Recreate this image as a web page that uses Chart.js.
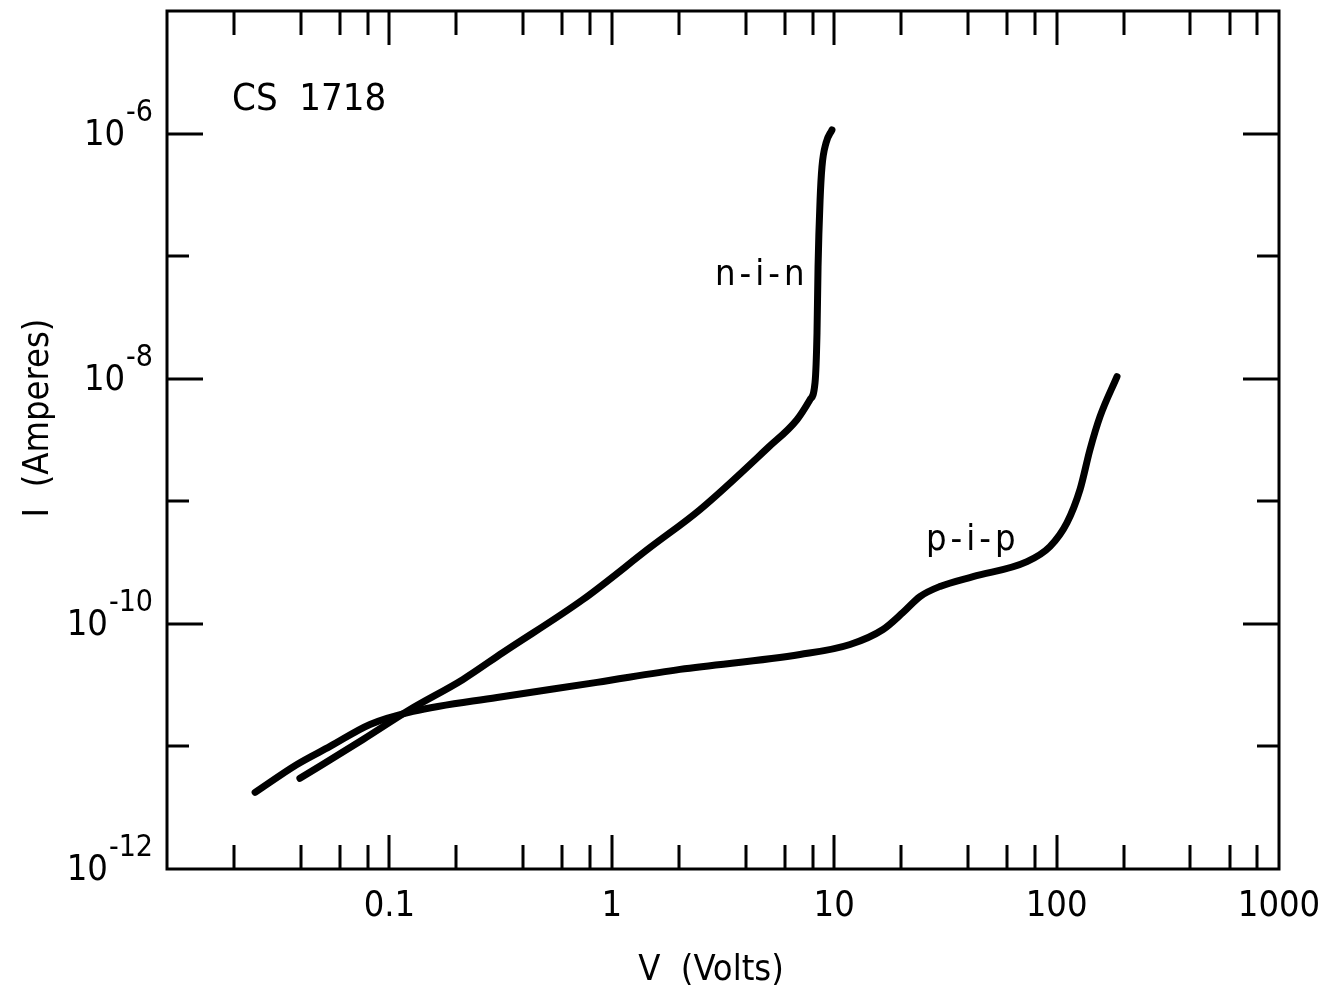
<!DOCTYPE html>
<html>
<head>
<meta charset="utf-8">
<title>CS 1718 current-voltage</title>
<script src="https://cdn.jsdelivr.net/npm/chart.js@4.4.1/dist/chart.umd.min.js"></script>
<style>
  html, body { margin: 0; padding: 0; background: #fff; }
  canvas { display: block; }
</style>
</head>
<body>
<canvas id="ivChart" width="1325" height="990"></canvas>
<script>
// n-i-n curve (volts / amperes)
const ninV = [0.0396, 0.0761, 0.1238, 0.2143, 0.3242, 0.742, 1.485, 2.493, 5.04, 6.80, 7.78, 8.20, 8.37, 8.46, 8.64, 8.81, 9.19, 9.77];
const ninI = [5.49e-12, 1.14e-11, 2.0e-11, 3.52e-11, 5.84e-11, 1.58e-10, 4.19e-10, 8.56e-10, 2.74e-9, 4.63e-9, 6.74e-9, 9.28e-9, 2.37e-8, 8.18e-8, 2.88e-7, 5.35e-7, 8.39e-7, 1.07e-6];

// p-i-p curve
const pipV = [0.0249, 0.0384, 0.0541, 0.0818, 0.1277, 0.3047, 0.858, 2.026, 7.02, 11.78, 16.58, 20.4, 24.3, 29.9, 42.1, 73.6, 93.3, 111.4, 127.4, 141.3, 156.7, 186.9];
const pipI = [4.22e-12, 7.13e-12, 1.0e-11, 1.51e-11, 1.93e-11, 2.51e-11, 3.33e-11, 4.25e-11, 5.62e-11, 6.79e-11, 9.0e-11, 1.24e-10, 1.67e-10, 2.02e-10, 2.43e-10, 3.22e-10, 4.27e-10, 6.7e-10, 1.245e-9, 2.64e-9, 4.9e-9, 1.04e-8];

// axes
const xLabelValues = [0.1, 1, 10, 100, 1000];
const xTickLabels = ['0.1', '1', '10', '100', '1000'];
const xDecades = [0.01, 0.1, 1, 10, 100];
const xMinorSteps = [2, 4, 6, 8];
const yTickExps = [-11, -10, -9, -8, -7, -6];
const yLabelExps = [-12, -10, -8, -6];

const xTitle = 'V  (Volts)';
const yTitle = 'I  (Amperes)';
const sampleName = 'CS  1718';
const curveNames = ['n-i-n', 'p-i-p'];

const FONT = '"Liberation Sans Narrow", "DejaVu Sans Condensed", "Liberation Sans", sans-serif';

function toPoints(xs, ys) {
  return xs.map((v, i) => ({ x: v, y: ys[i] }));
}

// frame, inward ticks, y labels with exponents, titles and notes
const decorPlugin = {
  id: 'decor',
  afterDraw(chart) {
    const { ctx, chartArea: a, scales } = chart;
    const x = scales.x, y = scales.y;
    ctx.save();
    ctx.strokeStyle = '#000';
    ctx.fillStyle = '#000';
    ctx.lineWidth = 3;
    ctx.strokeRect(a.left, a.top, a.right - a.left, a.bottom - a.top);

    // x ticks, top and bottom
    xDecades.forEach(d => {
      const vals = [{ v: d, len: 34 }].concat(xMinorSteps.map(m => ({ v: d * m, len: 24 })));
      vals.forEach(t => {
        if (t.v <= x.min || t.v >= x.max) return;
        const px = Math.round(x.getPixelForValue(t.v));
        ctx.beginPath();
        ctx.moveTo(px, a.bottom); ctx.lineTo(px, a.bottom - t.len);
        ctx.moveTo(px, a.top); ctx.lineTo(px, a.top + t.len);
        ctx.stroke();
      });
    });

    // y ticks, left and right
    yTickExps.forEach(e => {
      const py = Math.round(y.getPixelForValue(Math.pow(10, e)));
      const len = e % 2 === 0 ? 36 : 22;
      ctx.beginPath();
      ctx.moveTo(a.left, py); ctx.lineTo(a.left + len, py);
      ctx.moveTo(a.right, py); ctx.lineTo(a.right - len, py);
      ctx.stroke();
    });

    // y labels 10^n
    ctx.textAlign = 'right';
    ctx.textBaseline = 'alphabetic';
    yLabelExps.forEach(e => {
      const py = y.getPixelForValue(Math.pow(10, e));
      const sup = '-' + Math.abs(e);
      ctx.font = '30px ' + FONT;
      const supW = ctx.measureText(sup).width;
      ctx.fillText(sup, 153, py - 13);
      ctx.font = '36px ' + FONT;
      ctx.fillText('10', 153 - supW - 1, py + 11);
    });

    // axis titles
    ctx.textAlign = 'center';
    ctx.font = '36px ' + FONT;
    ctx.fillText(xTitle, 711, 980);
    ctx.save();
    ctx.translate(48, 418);
    ctx.rotate(-Math.PI / 2);
    ctx.fillText(yTitle, 0, 0);
    ctx.restore();

    // notes inside the plot
    ctx.textAlign = 'left';
    ctx.font = '38px ' + FONT;
    ctx.fillText(sampleName, 232, 110);
    ctx.font = '36px ' + FONT;
    ctx.letterSpacing = '4px';
    ctx.fillText(curveNames[0], 715, 285);
    ctx.fillText(curveNames[1], 926, 550);
    ctx.restore();
  }
};

const lineStyle = {
  showLine: true,
  borderColor: '#000',
  backgroundColor: '#000',
  borderWidth: 7,
  pointRadius: 0,
  cubicInterpolationMode: 'monotone',
  borderCapStyle: 'round',
  borderJoinStyle: 'round',
  fill: false
};

new Chart(document.getElementById('ivChart').getContext('2d'), {
  type: 'scatter',
  data: {
    datasets: [
      Object.assign({ label: curveNames[0], data: toPoints(ninV, ninI) }, lineStyle),
      Object.assign({ label: curveNames[1], data: toPoints(pipV, pipI) }, lineStyle)
    ]
  },
  options: {
    responsive: false,
    animation: false,
    devicePixelRatio: 1,
    layout: { autoPadding: false, padding: { top: 11, right: 46, left: 0, bottom: 0 } },
    plugins: { legend: { display: false }, tooltip: { enabled: false } },
    scales: {
      x: {
        type: 'logarithmic',
        min: 0.01,
        max: 1000,
        afterBuildTicks: s => { s.ticks = xLabelValues.map(v => ({ value: v })); },
        afterFit: s => { s.height = 121; s.paddingLeft = 0; s.paddingRight = 0; },
        grid: { display: false },
        border: { display: false },
        ticks: {
          autoSkip: false,
          maxRotation: 0,
          padding: 8,
          color: '#000',
          font: { family: FONT, size: 36 },
          callback: (v, i) => xTickLabels[i]
        }
      },
      y: {
        type: 'logarithmic',
        min: 1e-12,
        max: 1e-5,
        afterFit: s => { s.width = 167; s.paddingTop = 0; s.paddingBottom = 0; },
        grid: { display: false },
        border: { display: false },
        ticks: { display: false }
      }
    }
  },
  plugins: [decorPlugin]
});
</script>
</body>
</html>
